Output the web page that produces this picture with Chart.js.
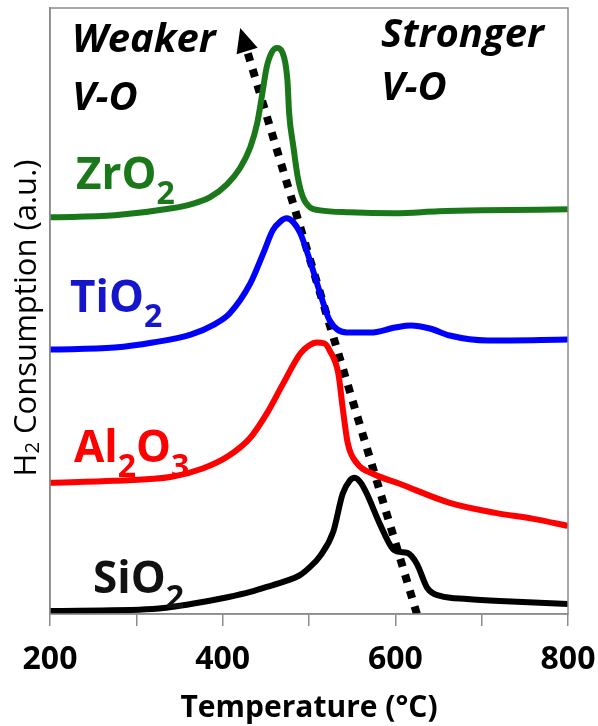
<!DOCTYPE html>
<html>
<head>
<meta charset="utf-8">
<script src="https://cdn.jsdelivr.net/npm/chart.js@4.4.1/dist/chart.umd.min.js"></script>
<style>
  html, body { margin: 0; padding: 0; background: #fff; }
</style>
</head>
<body>
<canvas id="chart" width="598" height="726"></canvas>
<script>
// H2-TPR profiles, temperature in °C, signal in a.u. (curves are offset vertically)
const zrT = [200, 275, 341, 363, 385, 405, 420, 432, 440, 446, 451, 457, 463, 469, 475, 477, 482, 487, 493, 501, 513, 547, 600, 650, 700, 800];
const zrY = [3.96, 3.98, 4.05, 4.09, 4.16, 4.29, 4.45, 4.66, 4.90, 5.20, 5.46, 5.61, 5.65, 5.61, 5.33, 5.00, 4.66, 4.36, 4.16, 4.06, 4.03, 4.01, 4.00, 4.02, 4.03, 4.04];

const tiT = [200, 275, 319, 363, 390, 408, 432, 447, 458, 467, 474, 482, 490, 501, 513, 524, 544, 571, 600, 618, 640, 663, 707, 800];
const tiY = [2.64, 2.66, 2.71, 2.79, 2.89, 3.00, 3.30, 3.60, 3.83, 3.92, 3.95, 3.91, 3.80, 3.53, 3.20, 2.93, 2.81, 2.81, 2.86, 2.88, 2.85, 2.78, 2.73, 2.74];

const alT = [200, 275, 341, 376, 407, 432, 451, 470, 490, 500, 509, 518, 524, 534, 539, 545, 556, 574, 605, 663, 716, 760, 800];
const alY = [1.31, 1.33, 1.37, 1.45, 1.58, 1.76, 2.00, 2.30, 2.60, 2.68, 2.71, 2.70, 2.63, 2.40, 2.06, 1.70, 1.50, 1.40, 1.30, 1.11, 1.01, 0.95, 0.88];

const siT = [200, 319, 363, 407, 432, 451, 470, 490, 500, 513, 528, 539, 547, 553, 560, 567, 582, 597, 605, 614, 625, 637, 652, 683, 721, 800];
const siY = [0.03, 0.05, 0.10, 0.17, 0.22, 0.27, 0.32, 0.39, 0.46, 0.58, 0.82, 1.20, 1.33, 1.36, 1.31, 1.20, 0.90, 0.65, 0.62, 0.61, 0.50, 0.26, 0.18, 0.15, 0.13, 0.10];

// dotted guide line (bottom -> top), arrow head drawn at the top end
const arrowT = [625, 428];
const arrowY = [0.0, 5.63];

const xTicks = [200, 400, 600, 800];

const green = '#1a781a';
const blue = '#0000ff';
const red = '#ff0000';
const black = '#000000';
const frameColor = '#8c8c8c';
const FONT = '"Open Sans", Lato, sans-serif';

function pts(xs, ys) {
  return xs.map((v, i) => ({ x: v, y: ys[i] }));
}

function curve(data, color) {
  return {
    data: data,
    borderColor: color,
    borderWidth: 6,
    pointRadius: 0,
    cubicInterpolationMode: 'monotone',
    fill: false
  };
}

// text with "_" marking the next char as subscript
function chemText(ctx, txt, x, base, size, color) {
  ctx.fillStyle = color;
  ctx.textBaseline = 'alphabetic';
  ctx.textAlign = 'left';
  let cx = x;
  for (let i = 0; i < txt.length; i++) {
    let ch = txt[i];
    let sub = false;
    if (ch === '_') { sub = true; i++; ch = txt[i]; }
    ctx.font = 'bold ' + (sub ? Math.round(size * 0.72) : size) + 'px ' + FONT;
    ctx.fillText(ch, cx, sub ? base + size * 0.33 : base);
    cx += ctx.measureText(ch).width;
  }
}

const overlay = {
  id: 'overlay',
  afterDatasetsDraw(chart) {
    const ctx = chart.ctx;
    const a = chart.chartArea;
    const xs = chart.scales.x, ys = chart.scales.y;
    ctx.save();

    // box round the plot
    ctx.strokeStyle = frameColor;
    ctx.lineWidth = 1.5;
    ctx.strokeRect(a.left, a.top, a.right - a.left, a.bottom - a.top);

    // arrow head on the dotted line
    const p0 = { x: xs.getPixelForValue(arrowT[0]), y: ys.getPixelForValue(arrowY[0]) };
    const p1 = { x: xs.getPixelForValue(arrowT[1]), y: ys.getPixelForValue(arrowY[1]) };
    const len = Math.hypot(p1.x - p0.x, p1.y - p0.y);
    const dx = (p1.x - p0.x) / len, dy = (p1.y - p0.y) / len;
    const tip = { x: p1.x + dx * 23, y: p1.y + dy * 23 };
    const base = { x: p1.x - dx * 1, y: p1.y - dy * 1 };
    ctx.fillStyle = black;
    ctx.beginPath();
    ctx.moveTo(tip.x, tip.y);
    ctx.lineTo(base.x - dy * 11, base.y + dx * 11);
    ctx.lineTo(base.x + dy * 11, base.y - dx * 11);
    ctx.closePath();
    ctx.fill();

    // annotations
    ctx.fillStyle = black;
    ctx.textAlign = 'left';
    ctx.textBaseline = 'alphabetic';
    ctx.font = 'italic bold 40px ' + FONT;
    ctx.fillText('Weaker', 72, 52);
    ctx.fillText('V-O', 72, 110);
    ctx.fillText('Stronger', 381, 47);
    ctx.fillText('V-O', 381, 100);

    chemText(ctx, 'ZrO_2', 76, 189, 44, green);
    chemText(ctx, 'TiO_2', 70, 312, 44, '#1515cc');
    chemText(ctx, 'Al_2O_3', 74, 462, 44, red);
    chemText(ctx, 'SiO_2', 93, 593, 44, '#111111');

    // y axis title with subscript, fitted to the reference length
    const target = 317;
    const rest = ' Consumption (a.u.)';
    ctx.font = '30px ' + FONT;
    const w30 = ctx.measureText('H' + rest).width + ctx.measureText('2').width * 0.65;
    const f = 30 * target / w30;
    ctx.translate(27, 318);
    ctx.rotate(-Math.PI / 2);
    ctx.fillStyle = black;
    ctx.textBaseline = 'middle';
    ctx.font = f + 'px ' + FONT;
    const wH = ctx.measureText('H').width;
    const wRest = ctx.measureText(rest).width;
    ctx.font = (f * 0.65) + 'px ' + FONT;
    const w2 = ctx.measureText('2').width;
    let cx = -(wH + w2 + wRest) / 2;
    ctx.font = f + 'px ' + FONT;
    ctx.fillText('H', cx, 0);
    cx += wH;
    ctx.font = (f * 0.65) + 'px ' + FONT;
    ctx.fillText('2', cx, 6);
    cx += w2;
    ctx.font = f + 'px ' + FONT;
    ctx.fillText(rest, cx, 0);

    ctx.restore();
  }
};

const arrowLine = {
  data: pts(arrowT, arrowY),
  borderColor: black,
  borderWidth: 8,
  borderDash: [8, 8.5],
  borderCapStyle: 'butt',
  pointRadius: 0,
  tension: 0,
  fill: false
};

new Chart(document.getElementById('chart'), {
  type: 'line',
  data: {
    datasets: [
      curve(pts(zrT, zrY), green),
      curve(pts(tiT, tiY), blue),
      curve(pts(alT, alY), red),
      curve(pts(siT, siY), black),
      arrowLine
    ]
  },
  options: {
    responsive: false,
    animation: false,
    devicePixelRatio: 1,
    layout: { padding: { top: 8, right: 30, left: 0, bottom: 0 } },
    plugins: { legend: { display: false }, tooltip: { enabled: false } },
    scales: {
      x: {
        type: 'linear',
        min: 200,
        max: 800,
        afterFit: s => { s.height = 112; s.paddingLeft = 0; s.paddingRight = 0; },
        afterBuildTicks: s => {
          s.ticks = [200, 300, 400, 500, 600, 700, 800].map(v => ({ value: v }));
        },
        ticks: {
          autoSkip: false,
          maxRotation: 0,
          padding: 15,
          color: black,
          font: { family: FONT, size: 32, weight: 'bold' },
          callback: v => xTicks.includes(v) ? String(v) : ''
        },
        grid: {
          drawOnChartArea: false,
          drawTicks: true,
          tickLength: 12,
          color: frameColor,
          lineWidth: 1.5
        },
        border: { display: true, color: frameColor, width: 1.5 },
        title: {
          display: true,
          text: 'Temperature (°C)',
          color: black,
          font: { family: FONT, size: 30, weight: 'bold' },
          padding: { top: 0, bottom: 0 }
        }
      },
      y: {
        type: 'linear',
        min: 0,
        max: 6.05,
        afterFit: s => { s.width = 50; },
        ticks: { display: false },
        grid: { display: false },
        border: { display: true, color: frameColor, width: 1.5 }
      }
    }
  },
  plugins: [overlay]
});
</script>
</body>
</html>
